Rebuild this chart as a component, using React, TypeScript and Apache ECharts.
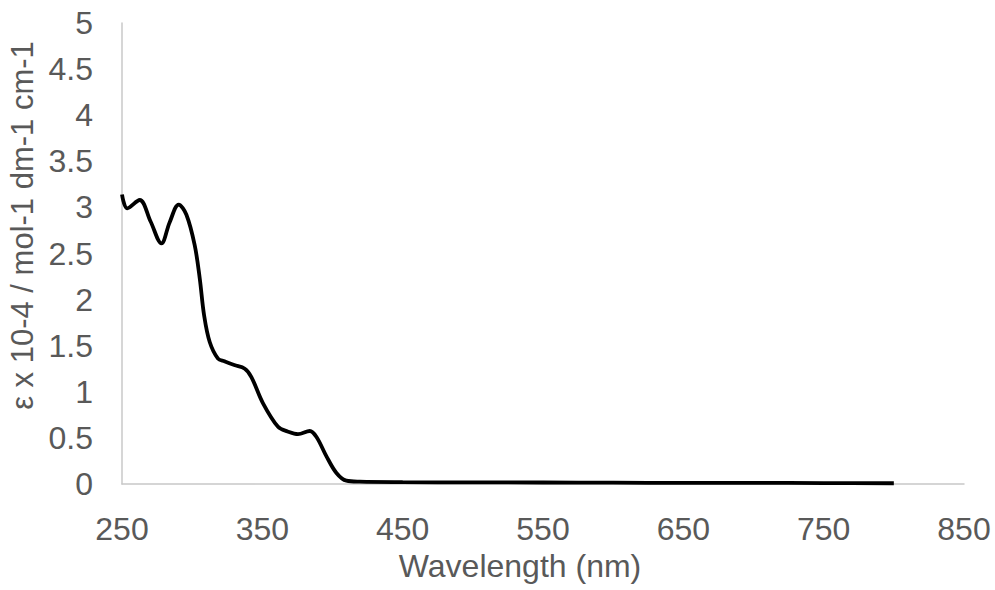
import React, { useEffect, useRef } from "react";
import * as echarts from "echarts";

const wavelengths = [250, 253.8, 262.6, 270.3, 278.1, 284, 290.4, 295.9, 301.8, 305.4, 308.5, 312.5, 318.4, 323.2, 330, 337.5, 342.2, 350.5, 361.2, 368, 375.4, 383.8, 388.6, 395.7, 402.8, 409.9, 419.4, 450, 500, 550, 600, 650, 700, 750, 800];
const epsilon = [3.14, 2.99, 3.08, 2.85, 2.61, 2.84, 3.03, 2.92, 2.59, 2.23, 1.83, 1.54, 1.36, 1.33, 1.29, 1.25, 1.16, 0.875, 0.62, 0.57, 0.54, 0.575, 0.51, 0.3, 0.12, 0.036, 0.025, 0.02, 0.018, 0.016, 0.014, 0.012, 0.012, 0.01, 0.008];

const xAxisTitle = "Wavelength (nm)";
const yAxisTitle = "ε x 10-4 / mol-1 dm-1 cm-1";

const FONT = "'Liberation Sans', Arial, sans-serif";
const TEXT_COLOR = "#595959";

export default function App() {
  const ref = useRef<HTMLDivElement>(null);
  useEffect(() => {
    if (!ref.current) return;
    const chart = echarts.init(ref.current, null, { renderer: "svg" });
    const data = wavelengths.map((w, i) => [w, epsilon[i]]);
    chart.setOption({
      animation: false,
      backgroundColor: "#ffffff",
      textStyle: { fontFamily: FONT },
      grid: { left: 122, right: 31, top: 23, bottom: 106, outerBoundsMode: "none" },
      xAxis: {
        type: "value",
        min: 250,
        max: 850,
        interval: 100,
        name: xAxisTitle,
        nameLocation: "middle",
        nameGap: 65,
        nameTextStyle: { fontSize: 32, color: TEXT_COLOR, fontFamily: FONT, padding: [0, 46, 0, 0] },
        axisLine: { show: true, lineStyle: { color: "#c8c8c8", width: 1.5 } },
        axisTick: { show: false },
        splitLine: { show: false },
        axisLabel: { fontSize: 32, color: TEXT_COLOR, fontFamily: FONT, margin: 29 },
      },
      yAxis: {
        type: "value",
        min: 0,
        max: 5,
        interval: 0.5,
        name: yAxisTitle,
        nameLocation: "middle",
        nameGap: 79,
        nameTextStyle: { fontSize: 31, color: TEXT_COLOR, fontFamily: FONT, padding: [0, 0, 0, 56] },
        axisLine: { show: true, lineStyle: { color: "#c8c8c8", width: 1.5 } },
        axisTick: { show: false },
        splitLine: { show: false },
        axisLabel: { fontSize: 32, color: TEXT_COLOR, fontFamily: FONT, margin: 29 },
      },
      series: [
        {
          type: "line",
          data,
          smooth: 0.35,
          showSymbol: false,
          lineStyle: { color: "#000000", width: 3.8 },
        },
      ],
    });
    return () => chart.dispose();
  }, []);
  return (
    <div
      ref={ref}
      style={{ position: "fixed", left: 0, top: 0, width: 995, height: 590 }}
    />
  );
}
